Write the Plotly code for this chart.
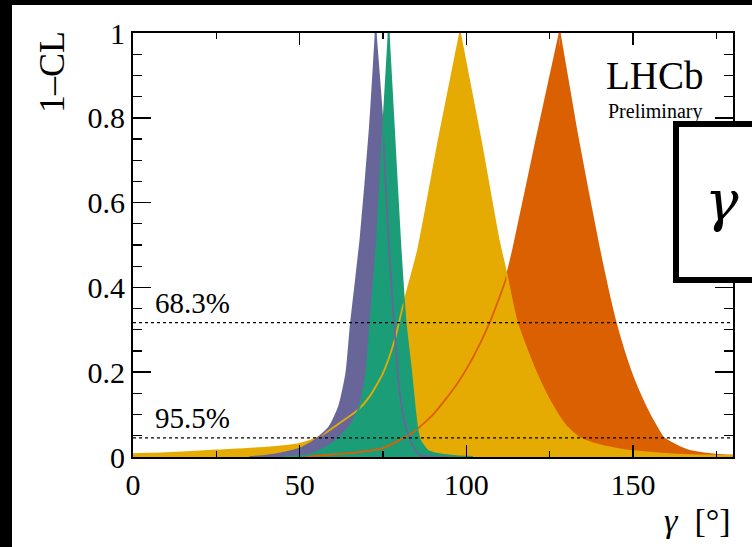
import plotly.graph_objects as go

# ---------------- data ----------------
purple_gamma = [35, 40, 45, 50, 55, 59, 61.8, 64, 65.4, 68.2, 71, 72.8, 75, 76.5, 78.3, 80, 81.8, 84, 86, 90, 95]
purple_pval = [0, 0.003, 0.010, 0.020, 0.042, 0.072, 0.119, 0.198, 0.317, 0.51, 0.771, 1.0, 0.771, 0.53, 0.317, 0.151, 0.072, 0.025, 0.005, 0.001, 0]

green_gamma = [45, 50, 53, 56, 60, 65, 68, 70, 71.2, 73.1, 75, 76.7, 78.3, 80.2, 81.8, 83.5, 84.5, 85.2, 86, 88.4, 91, 97, 102]
green_pval = [0, 0.002, 0.005, 0.015, 0.033, 0.072, 0.119, 0.198, 0.317, 0.5, 0.771, 1.0, 0.771, 0.5, 0.317, 0.198, 0.119, 0.072, 0.041, 0.015, 0.008, 0.002, 0]

yellow_gamma = [0, 10, 25, 40, 50, 56, 62, 67.5, 71, 75, 78.5, 80.7, 81.5, 85.5, 91.7, 98.1, 104.3, 109.7, 112, 115.2, 121, 126, 130, 134, 140, 147, 155, 162, 170, 180]
yellow_pval = [0.007, 0.009, 0.0155, 0.022, 0.031, 0.0485, 0.080, 0.111, 0.143, 0.198, 0.276, 0.347, 0.37, 0.488, 0.747, 1.0, 0.747, 0.512, 0.433, 0.317, 0.198, 0.119, 0.072, 0.045, 0.028, 0.017, 0.010, 0.006, 0.004, 0.003]

orange_gamma = [50, 55, 65, 75, 80, 84, 90, 97, 102, 107, 111.8, 114, 121, 128, 133, 139.6, 144.8, 149.5, 153.8, 157, 159.2, 166, 174, 180]
orange_pval = [0, 0.003, 0.009, 0.021, 0.040, 0.058, 0.100, 0.170, 0.235, 0.317, 0.418, 0.488, 0.747, 1.0, 0.771, 0.5, 0.317, 0.198, 0.119, 0.072, 0.045, 0.017, 0.006, 0.003]

cl_levels = [0.317, 0.045]
cl_labels = ["68.3%", "95.5%"]

x_ticks = [0, 50, 100, 150]
y_ticks = [0, 0.2, 0.4, 0.6, 0.8, 1]
y_ticktext = ["0", "0.2", "0.4", "0.6", "0.8", "1"]

colors = {
    "purple": "#686699",
    "green": "#1B9E77",
    "yellow": "#E6AB02",
    "orange": "#DB6002",
}

series = {
    "purple": (purple_gamma, purple_pval),
    "green": (green_gamma, green_pval),
    "yellow": (yellow_gamma, yellow_pval),
    "orange": (orange_gamma, orange_pval),
}

FONT = "Liberation Serif"
W, H = 752, 547
L, R, T, B = 133, 19, 33, 90
PW, PH = W - L - R, H - T - B
SMOOTH = 0.6


def px(xpix):
    return (xpix - L) / PW


def py(ypix):
    return (H - B - ypix) / PH


def halves(g, p):
    k = p.index(max(p))
    return k, [(g[:k + 1], p[:k + 1]), (g[k:], p[k:])]


fig = go.Figure()

# fills: orange, yellow, purple, green (bottom to top)
for name in ["orange", "yellow", "purple", "green"]:
    g, p = series[name]
    k, parts = halves(g, p)
    for hg, hp in parts:
        fig.add_trace(go.Scatter(x=hg, y=hp, mode="lines", fill="tozeroy",
                                 fillcolor=colors[name],
                                 line=dict(width=0, color=colors[name], shape="spline", smoothing=SMOOTH),
                                 hoverinfo="skip", showlegend=False))
    # cover the hairline seam between the two halves at the peak
    fig.add_trace(go.Scatter(x=[g[k], g[k]], y=[0, p[k] * 0.97], mode="lines",
                             line=dict(width=1.5, color=colors[name]),
                             hoverinfo="skip", showlegend=False))

# outlines on top
for name in ["orange", "yellow", "purple", "green"]:
    g, p = series[name]
    k, parts = halves(g, p)
    for hg, hp in parts:
        fig.add_trace(go.Scatter(x=hg, y=hp, mode="lines",
                                 line=dict(width=1.8, color=colors[name], shape="spline", smoothing=SMOOTH),
                                 hoverinfo="skip", showlegend=False))

# CL reference lines
for lvl in cl_levels:
    fig.add_trace(go.Scatter(x=[0, 180], y=[lvl, lvl], mode="lines",
                             line=dict(width=1.2, color="black", dash="dot"),
                             hoverinfo="skip", showlegend=False))

annotations = []
for lvl, lab in zip(cl_levels, cl_labels):
    annotations.append(dict(x=6, y=lvl, xref="x", yref="y", text=lab, showarrow=False,
                            xanchor="left", yanchor="bottom", yshift=2,
                            font=dict(family=FONT, size=29, color="black")))

annotations += [
    dict(x=px(52), y=py(72), xref="paper", yref="paper", text="1–CL", textangle=-90,
         showarrow=False, xanchor="center", yanchor="middle",
         font=dict(family=FONT, size=36, color="black")),
    dict(x=px(733), y=py(520), xref="paper", yref="paper", text="<i>γ</i>  [°]",
         showarrow=False, xanchor="right", yanchor="middle",
         font=dict(family=FONT, size=34, color="black")),
    dict(x=px(655), y=py(76), xref="paper", yref="paper", text="LHCb",
         showarrow=False, xanchor="center", yanchor="middle",
         font=dict(family=FONT, size=39, color="black")),
    dict(x=px(655), y=py(111), xref="paper", yref="paper", text="Preliminary",
         showarrow=False, xanchor="center", yanchor="middle",
         font=dict(family=FONT, size=20, color="black")),
    dict(x=px(722), y=py(200), xref="paper", yref="paper", text="<i>γ</i>",
         showarrow=False, xanchor="center", yanchor="middle",
         font=dict(family="DejaVu Serif", size=56, color="black")),
]

shapes = [
    # gamma box (cut by the right edge)
    dict(type="rect", xref="paper", yref="paper", x0=px(676), x1=px(790), y0=py(280), y1=py(124),
         line=dict(color="black", width=6), fillcolor="white", layer="above"),
    # black border strips of the photo
    dict(type="rect", xref="paper", yref="paper", x0=px(-5), x1=px(12), y0=py(560), y1=py(-5),
         line=dict(width=0), fillcolor="black", layer="above"),
    dict(type="rect", xref="paper", yref="paper", x0=px(-5), x1=px(760), y0=py(5), y1=py(-5),
         line=dict(width=0), fillcolor="black", layer="above"),
]

fig.update_layout(
    width=W, height=H,
    margin=dict(l=L, r=R, t=T, b=B, autoexpand=False),
    paper_bgcolor="white", plot_bgcolor="white",
    font=dict(family=FONT, color="black"),
    showlegend=False,
    hovermode=False,
    annotations=annotations,
    shapes=shapes,
)

fig.update_xaxes(range=[0, 180], tickvals=x_ticks, ticktext=[str(v) for v in x_ticks],
                 ticks="inside", ticklen=12, tickwidth=1.5, tickcolor="black",
                 minor=dict(dtick=25, ticklen=6, tickwidth=1.2, tickcolor="black", ticks="inside"),
                 showline=True, linecolor="black", linewidth=2, mirror="allticks",
                 showgrid=False, zeroline=False, automargin=False,
                 tickfont=dict(family=FONT, size=30, color="black"))
fig.update_yaxes(range=[0, 1], tickvals=y_ticks, ticktext=y_ticktext,
                 ticks="inside", ticklen=18, tickwidth=1.5, tickcolor="black",
                 minor=dict(dtick=0.05, ticklen=9, tickwidth=1.2, tickcolor="black", ticks="inside"),
                 showline=True, linecolor="black", linewidth=2, mirror="allticks",
                 showgrid=False, zeroline=False, automargin=False,
                 tickfont=dict(family=FONT, size=30, color="black"))

fig.write_html("out.html", config={"displayModeBar": False, "staticPlot": True},
               post_script="document.body.style.margin='0';document.body.style.overflow='hidden';")
